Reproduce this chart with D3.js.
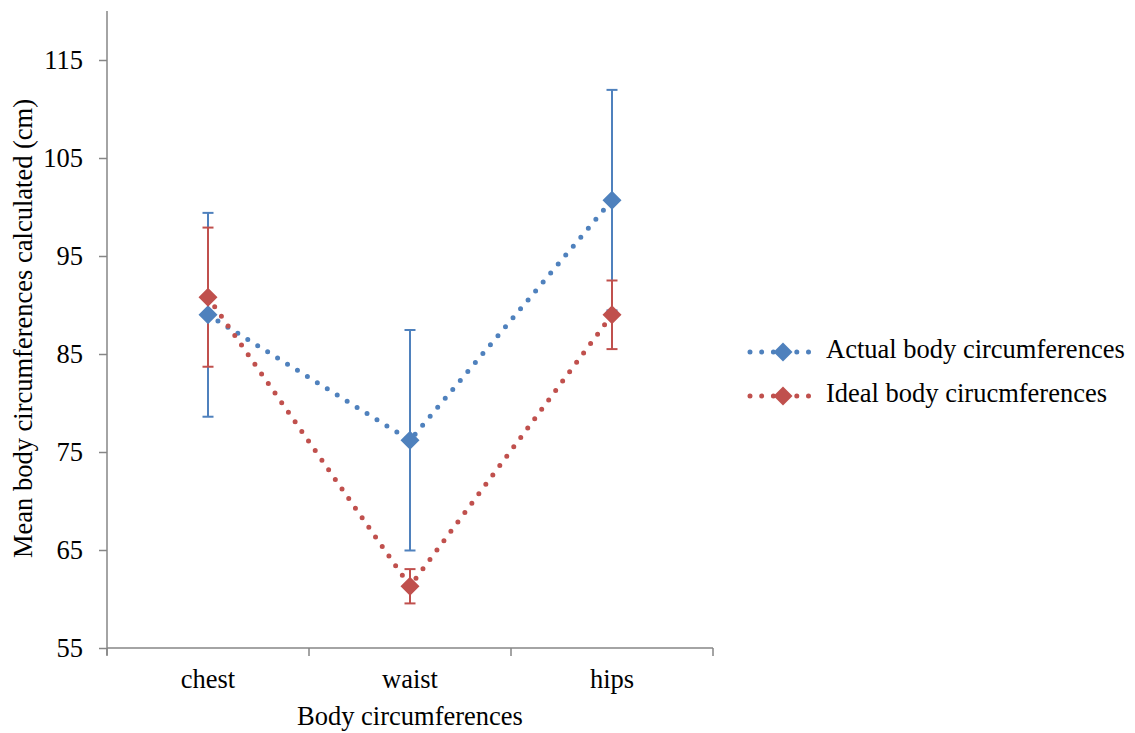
<!DOCTYPE html>
<html>
<head>
<meta charset="utf-8">
<script src="https://cdn.jsdelivr.net/npm/d3@7"></script>
<style>
  html, body { margin: 0; padding: 0; background: #fff; }
  svg text { font-family: "Liberation Serif", "Times New Roman", serif; fill: #000; }
</style>
</head>
<body>
<svg id="chart" width="1135" height="733"></svg>
<script>
// Body circumference measurements (cm)
const categories = ["chest", "waist", "hips"];
const actualMeans = [89.0, 76.2, 100.7];
const actualErrors = [10.4, 11.25, 11.25];
const idealMeans = [90.8, 61.3, 89.0];
const idealErrors = [7.1, 1.75, 3.5];
const yTicks = [55, 65, 75, 85, 95, 105, 115];
const seriesNames = ["Actual body circumferences", "Ideal body cirucmferences"];
const seriesColors = ["#4F81BD", "#C0504D"];

const series = [
  { name: seriesNames[0], color: seriesColors[0], means: actualMeans, errors: actualErrors },
  { name: seriesNames[1], color: seriesColors[1], means: idealMeans, errors: idealErrors }
];

const FONT = '"Liberation Serif", "Times New Roman", serif';
const FS = "26.5px";

const svg = d3.select("#chart");
const plot = { left: 107, right: 713, top: 11, bottom: 648 };

const x = d3.scaleBand().domain(categories).range([plot.left, plot.right]);
const y = d3.scaleLinear().domain([55, 120]).range([plot.bottom, plot.top]);
const cx = c => x(c) + x.bandwidth() / 2;

const axisColor = "#868686";

// Y axis
const yAxis = svg.append("g")
  .attr("transform", `translate(${plot.left},0)`)
  .call(d3.axisLeft(y).tickValues(yTicks).tickSize(8).tickPadding(16));
yAxis.attr("font-family", null).attr("font-size", null);
yAxis.select(".domain").remove();
yAxis.append("line")
  .attr("x1", 0).attr("x2", 0)
  .attr("y1", plot.top).attr("y2", plot.bottom + 7)
  .attr("stroke", axisColor).attr("stroke-width", 1.5);
yAxis.selectAll(".tick line").attr("stroke", axisColor).attr("stroke-width", 1.5);
yAxis.selectAll(".tick text")
  .style("font-family", FONT)
  .style("font-size", FS).attr("fill", "#000");

// X axis with boundary ticks between categories
const xAxis = svg.append("g").attr("transform", `translate(0,${plot.bottom})`);
xAxis.append("line")
  .attr("x1", plot.left).attr("x2", plot.right)
  .attr("stroke", axisColor).attr("stroke-width", 1.5);
const boundaries = categories.map(c => x(c)).concat([x(categories[categories.length - 1]) + x.bandwidth()]);
xAxis.selectAll(".bt").data(boundaries).enter().append("line")
  .attr("x1", d => d).attr("x2", d => d)
  .attr("y1", 0).attr("y2", 8)
  .attr("stroke", axisColor).attr("stroke-width", 1.5);
xAxis.selectAll(".cat").data(categories).enter().append("text")
  .attr("x", d => cx(d)).attr("y", 40)
  .attr("text-anchor", "middle")
  .style("font-family", FONT).style("font-size", FS)
  .text(d => d);

// Axis titles
svg.append("text")
  .attr("x", (plot.left + plot.right) / 2).attr("y", 725)
  .attr("text-anchor", "middle")
  .style("font-family", FONT).style("font-size", FS)
  .text("Body circumferences");
svg.append("text")
  .attr("transform", "translate(31.5,328.5) rotate(-90)")
  .attr("text-anchor", "middle")
  .style("font-family", FONT).style("font-size", FS)
  .text("Mean body circumferences calculated (cm)");

const diamond = "M0,-9.5L9.5,0L0,9.5L-9.5,0Z";
const line = d3.line().x((d, i) => cx(categories[i])).y(d => y(d));

// Error bars
series.forEach(s => {
  const g = svg.append("g");
  categories.forEach((c, i) => {
    const hi = y(s.means[i] + s.errors[i]);
    const lo = y(s.means[i] - s.errors[i]);
    g.append("line").attr("x1", cx(c)).attr("x2", cx(c)).attr("y1", hi).attr("y2", lo)
      .attr("stroke", s.color).attr("stroke-width", 2);
    [hi, lo].forEach(v => g.append("line")
      .attr("x1", cx(c) - 5.5).attr("x2", cx(c) + 5.5).attr("y1", v).attr("y2", v)
      .attr("stroke", s.color).attr("stroke-width", 2));
  });
});

// Dotted series lines
series.forEach(s => {
  svg.append("path").datum(s.means).attr("d", line)
    .attr("fill", "none").attr("stroke", s.color)
    .attr("stroke-width", 5).attr("stroke-linecap", "round")
    .attr("stroke-dasharray", "0 11.7");
});

// Markers
series.forEach(s => {
  svg.append("g").selectAll("path").data(s.means).enter().append("path")
    .attr("d", diamond)
    .attr("transform", (d, i) => `translate(${cx(categories[i])},${y(d)})`)
    .attr("fill", s.color);
});

// Legend
const legend = svg.append("g");
series.forEach((s, i) => {
  const ly = 352 + i * 44;
  legend.append("line").attr("x1", 750).attr("x2", 816).attr("y1", ly).attr("y2", ly)
    .attr("stroke", s.color).attr("stroke-width", 5).attr("stroke-linecap", "round")
    .attr("stroke-dasharray", "0 11.7");
  legend.append("path").attr("d", diamond).attr("transform", `translate(783,${ly})`).attr("fill", s.color);
  legend.append("text").attr("x", 826).attr("y", ly + 5.5)
    .style("font-family", FONT).style("font-size", FS)
    .text(s.name);
});
</script>
</body>
</html>
